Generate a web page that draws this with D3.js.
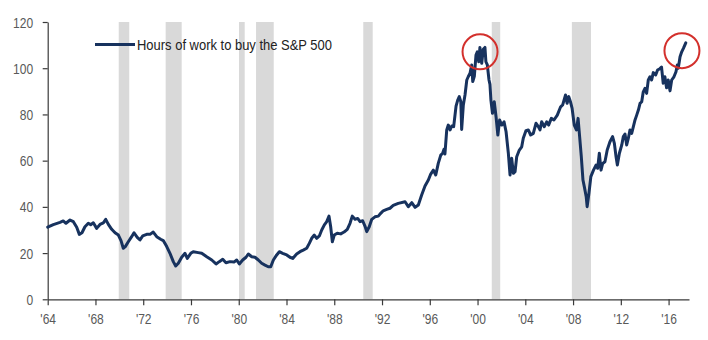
<!DOCTYPE html>
<html>
<head>
<meta charset="utf-8">
<script src="https://cdn.jsdelivr.net/npm/d3@7"></script>
<style>
  html, body { margin: 0; padding: 0; background: #ffffff; }
  svg { display: block; }
  text { font-family: "Liberation Sans", Arial, sans-serif; }
</style>
</head>
<body>
<svg id="chart" width="708" height="340"></svg>
<script>
// Hours of work needed to buy one unit of the S&P 500 (decimal year, hours)
const years = [
  1964.00, 1964.47, 1965.03, 1965.30, 1965.53, 1965.87, 1966.15, 1966.43, 1966.65, 1966.87,
  1967.12, 1967.40, 1967.60, 1967.82, 1968.10, 1968.38, 1968.66, 1968.86, 1969.08, 1969.36,
  1969.64, 1969.92, 1970.14, 1970.33, 1970.50, 1970.75, 1971.03, 1971.23, 1971.50, 1971.73,
  1971.96, 1972.29, 1972.57, 1972.84, 1973.13, 1973.46, 1973.68, 1973.97, 1974.24, 1974.52,
  1974.72, 1974.94, 1975.22, 1975.50, 1975.69, 1975.98, 1976.19, 1976.61, 1976.90, 1977.32,
  1977.74, 1978.10, 1978.37, 1978.66, 1978.93, 1979.27, 1979.60, 1979.83, 1980.05, 1980.33,
  1980.61, 1980.80, 1981.09, 1981.36, 1981.64, 1981.92, 1982.20, 1982.47, 1982.68, 1982.90,
  1983.18, 1983.40, 1983.68, 1984.02, 1984.29, 1984.52, 1984.85, 1985.13, 1985.40, 1985.69,
  1985.91, 1986.11, 1986.33, 1986.53, 1986.75, 1986.95, 1987.17, 1987.37, 1987.56, 1987.70,
  1987.84, 1988.00, 1988.25, 1988.54, 1988.82, 1989.09, 1989.32, 1989.51, 1989.74, 1989.96,
  1990.16, 1990.38, 1990.57, 1990.72, 1990.93, 1991.14, 1991.41, 1991.69, 1991.89, 1992.10,
  1992.39, 1992.67, 1992.94, 1993.36, 1993.93, 1994.20, 1994.49, 1994.77, 1995.04, 1995.32,
  1995.60, 1995.88, 1996.08, 1996.30, 1996.50, 1996.71, 1996.92, 1997.08, 1997.19, 1997.27,
  1997.42, 1997.55, 1997.70, 1997.84, 1998.00, 1998.20, 1998.34, 1998.47, 1998.60, 1998.67,
  1998.81, 1998.95, 1999.10, 1999.22, 1999.37, 1999.51, 1999.60, 1999.73, 1999.87, 1999.98,
  2000.10, 2000.20, 2000.35, 2000.48, 2000.62, 2000.70, 2000.82, 2000.96, 2001.04, 2001.12,
  2001.25, 2001.40, 2001.55, 2001.70, 2001.85, 2002.03, 2002.22, 2002.39, 2002.58, 2002.72,
  2002.86, 2003.00, 2003.14, 2003.28, 2003.50, 2003.70, 2003.83, 2004.06, 2004.25, 2004.45,
  2004.67, 2004.90, 2005.09, 2005.23, 2005.37, 2005.59, 2005.79, 2005.95, 2006.18, 2006.40,
  2006.68, 2006.96, 2007.13, 2007.37, 2007.50, 2007.64, 2007.78, 2007.92, 2008.10, 2008.28,
  2008.42, 2008.55, 2008.69, 2008.83, 2008.97, 2009.10, 2009.18, 2009.33, 2009.49, 2009.71,
  2009.93, 2010.06, 2010.20, 2010.34, 2010.48, 2010.67, 2010.86, 2011.09, 2011.31, 2011.46,
  2011.60, 2011.71, 2011.88, 2012.08, 2012.21, 2012.35, 2012.49, 2012.63, 2012.77, 2012.91,
  2013.05, 2013.19, 2013.33, 2013.47, 2013.61, 2013.75, 2013.88, 2014.02, 2014.16, 2014.30,
  2014.44, 2014.58, 2014.72, 2014.92, 2015.08, 2015.27, 2015.41, 2015.55, 2015.69, 2015.83,
  2015.97, 2016.12, 2016.26, 2016.45, 2016.62, 2016.73, 2016.81, 2016.96, 2017.10, 2017.24,
  2017.44
];
const hours = [
  31.2, 32.3, 33.3, 33.9, 32.9, 34.3, 33.6, 31.2, 28.1, 28.8,
  31.4, 32.9, 32.3, 33.1, 30.7, 32.4, 33.1, 34.6, 32.4, 30.3,
  28.8, 27.8, 25.4, 22.1, 22.8, 24.9, 27.1, 28.8, 26.8, 25.7,
  27.4, 28.1, 28.1, 29.1, 27.1, 26.0, 25.4, 22.8, 19.9, 16.3,
  14.4, 15.6, 18.2, 19.9, 17.7, 19.9, 20.6, 20.2, 19.9, 18.4,
  17.0, 15.3, 16.3, 17.3, 15.8, 16.3, 16.1, 17.0, 15.3, 17.0,
  18.2, 19.6, 18.4, 18.2, 17.0, 15.6, 14.8, 14.1, 14.1, 17.0,
  19.2, 20.6, 19.9, 19.2, 18.2, 17.7, 19.6, 20.6, 21.3, 22.1,
  24.2, 26.4, 27.8, 26.4, 27.4, 30.0, 32.2, 33.6, 36.0, 31.4,
  24.9, 27.8, 28.6, 28.3, 29.1, 30.3, 32.9, 36.0, 34.6, 35.0,
  33.6, 34.0, 31.7, 29.3, 31.4, 34.6, 35.7, 36.0, 37.2, 38.3,
  38.9, 39.4, 40.6, 41.5, 42.2, 40.1, 41.8, 39.8, 40.8, 45.1,
  49.0, 51.6, 54.2, 55.9, 53.8, 58.8, 62.4, 63.2, 64.9, 62.9,
  73.3, 75.4, 73.3, 75.0, 74.7, 83.6, 86.2, 87.7, 85.5, 73.5,
  84.1, 88.4, 94.9, 96.3, 97.8, 101.4, 94.2, 96.5, 105.7, 107.1,
  102.8, 109.0, 102.1, 108.2, 109.0, 102.8, 101.4, 94.9, 93.0, 86.2,
  80.5, 85.5, 79.0, 71.1, 77.6, 75.4, 76.8, 72.5, 63.2, 53.8,
  61.0, 54.5, 55.2, 61.7, 64.6, 66.0, 69.7, 73.0, 73.3, 71.1,
  71.8, 76.2, 74.7, 73.3, 76.8, 74.7, 76.8, 75.4, 78.3, 77.6,
  79.7, 83.3, 84.1, 88.4, 84.8, 87.7, 85.5, 82.6, 75.4, 73.3,
  78.3, 70.4, 61.7, 51.6, 48.0, 44.4, 40.1, 45.9, 53.1, 55.9,
  58.1, 56.7, 63.2, 55.9, 58.8, 59.5, 64.6, 68.2, 70.4, 67.5,
  61.7, 58.1, 63.2, 66.8, 70.4, 71.5, 66.8, 69.7, 73.3, 71.8,
  74.7, 77.6, 79.7, 81.9, 84.8, 85.5, 89.8, 91.3, 89.1, 94.9,
  96.3, 94.9, 98.1, 97.1, 99.2, 99.8, 100.5, 93.5, 96.3, 91.5,
  94.9, 90.2, 94.9, 96.3, 98.5, 101.4, 100.0, 105.0, 107.1, 108.6,
  111.0
];

// US recessions (start, end in decimal years)
const recessionStart = [1969.95, 1973.88, 1980.02, 1981.45, 1990.43, 2001.19, 2007.90];
const recessionEnd   = [1970.83, 1975.22, 1980.50, 1982.93, 1991.22, 2001.90, 2009.50];

// Axis ticks
const yearTicks = [1964, 1968, 1972, 1976, 1980, 1984, 1988, 1992, 1996, 2000, 2004, 2008, 2012, 2016];
const valueTicks = [0, 20, 40, 60, 80, 100, 120];

// Circled peaks
const highlightYears = [2000.21, 2017.12];
const highlightValues = [107.1, 107.6];

const seriesName = "Hours of work to buy the S&P 500";

const svg = d3.select("#chart");

const x = d3.scaleLinear().domain([1964, 2017.71]).range([47.7, 689]);
const y = d3.scaleLinear().domain([0, 120]).range([299.3, 22]);

const lineColor = "#17325e";
const axisColor = "#3a3a3a";
const labelColor = "#595959";
const squeeze = 0.86;

// Recession shading
svg.append("g")
  .selectAll("rect")
  .data(recessionStart.map((s, i) => [s, recessionEnd[i]]))
  .join("rect")
  .attr("x", d => x(d[0]))
  .attr("width", d => x(d[1]) - x(d[0]))
  .attr("y", y(120))
  .attr("height", y(0) - y(120))
  .attr("fill", "#d9d9d9");

// Y axis
const yAxis = svg.append("g")
  .attr("transform", `translate(${x(1964)},0)`)
  .call(d3.axisLeft(y).tickValues(valueTicks).tickSize(5).tickSizeOuter(0).tickFormat(d3.format("d")));
yAxis.select(".domain").attr("stroke", axisColor).attr("stroke-width", 1.2);
yAxis.selectAll(".tick line").attr("stroke", axisColor).attr("stroke-width", 1.2);
yAxis.selectAll(".tick text")
  .attr("x", -14.5 / squeeze)
  .attr("dy", "0.36em")
  .attr("transform", `scale(${squeeze},1)`)
  .attr("fill", labelColor)
  .style("font-size", "14px")
  .style("font-family", "'Liberation Sans', Arial, sans-serif");

// X axis
const xAxis = svg.append("g")
  .attr("transform", `translate(0,${y(0)})`)
  .call(d3.axisBottom(x).tickValues(yearTicks).tickSize(6).tickSizeOuter(0)
    .tickFormat(d => "'" + String(d).slice(2)));
xAxis.select(".domain").attr("stroke", axisColor).attr("stroke-width", 1.2);
xAxis.selectAll(".tick line").attr("stroke", axisColor).attr("stroke-width", 1.2);
xAxis.selectAll(".tick text")
  .attr("y", 15)
  .attr("dy", "0.71em")
  .attr("transform", `scale(${squeeze},1)`)
  .attr("fill", labelColor)
  .style("font-size", "14px")
  .style("font-family", "'Liberation Sans', Arial, sans-serif");

// Series line
const line = d3.line()
  .x((d, i) => x(years[i]))
  .y(d => y(d));

svg.append("path")
  .datum(hours)
  .attr("d", line)
  .attr("fill", "none")
  .attr("stroke", lineColor)
  .attr("stroke-width", 3)
  .attr("stroke-linejoin", "round")
  .attr("stroke-linecap", "round");

// Circled peaks
svg.append("g")
  .selectAll("circle")
  .data(highlightYears.map((yr, i) => [yr, highlightValues[i]]))
  .join("circle")
  .attr("cx", d => x(d[0]))
  .attr("cy", d => y(d[1]))
  .attr("r", 17.5)
  .attr("fill", "none")
  .attr("stroke", "#d3302c")
  .attr("stroke-width", 2);

// Legend
const legend = svg.append("g");
legend.append("line")
  .attr("x1", 95).attr("x2", 135)
  .attr("y1", 44.5).attr("y2", 44.5)
  .attr("stroke", lineColor)
  .attr("stroke-width", 3);
legend.append("text")
  .attr("x", 137)
  .attr("y", 49.5)
  .attr("fill", "#222222")
  .attr("textLength", 195)
  .attr("lengthAdjust", "spacingAndGlyphs")
  .style("font-size", "14px")
  .text(seriesName);
</script>
</body>
</html>
